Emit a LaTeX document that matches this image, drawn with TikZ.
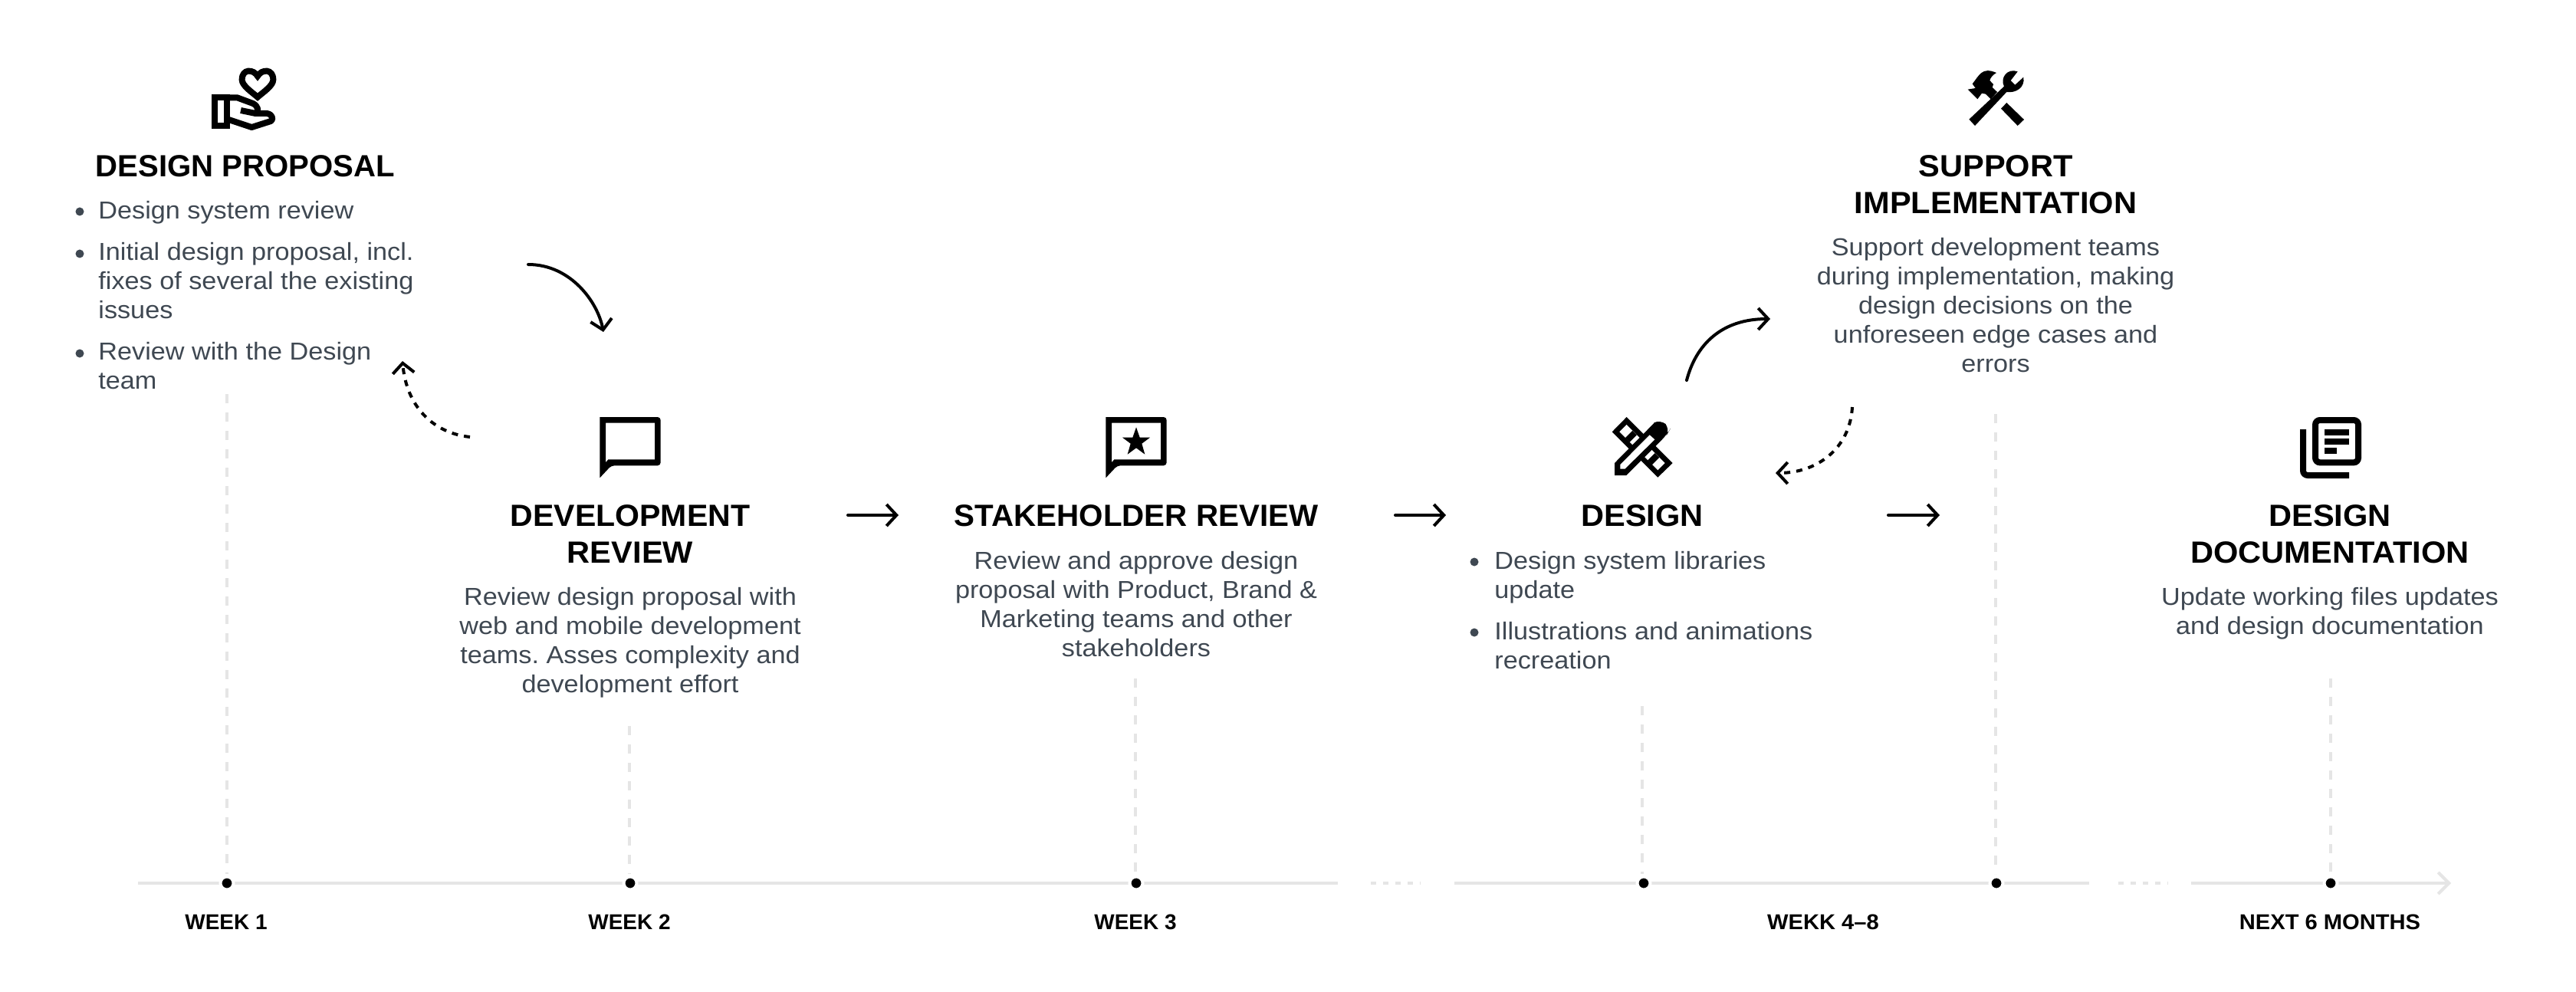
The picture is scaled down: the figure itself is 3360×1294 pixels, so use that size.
\documentclass[tikz,border=0pt]{standalone}
\usepackage{fontspec}
\setmainfont[FakeStretch=1.04]{Liberation Sans}
\newfontfamily\bodyfont[FakeStretch=1.07]{Liberation Sans}
\usetikzlibrary{arrows.meta}
\definecolor{ink}{HTML}{000000}
\definecolor{body}{HTML}{3F4852}
\definecolor{rulegray}{HTML}{E5E5E5}
\newcommand\fh{\rule{0pt}{15pt}}
\newcommand\fb{\rule{0pt}{12pt}}
\newcommand\narrow[2]{\scalebox{#1}[1]{#2}}
\tikzset{
  x=0.5pt,y=-0.5pt,
  title/.style={anchor=north,inner sep=0pt,align=center,text=ink,font=\fontsize{20}{24}\selectfont\bfseries},
  bodyc/.style={anchor=north,inner sep=0pt,align=center,text=body,font=\fontsize{16}{19}\selectfont\bodyfont\frenchspacing},
  bodyl/.style={anchor=north west,inner sep=0pt,align=left,text=body,font=\fontsize{16}{19}\selectfont\bodyfont\frenchspacing},
  week/.style={anchor=base,inner sep=0pt,text=ink,font=\fontsize{14}{17}\selectfont\bfseries},
  bull/.style={circle,fill=body,inner sep=0pt,minimum size=5.5pt},
  tick/.style={circle,fill=ink,draw=white,line width=2pt,inner sep=0pt,minimum size=8.5pt},
  icon/.style={x=0.16667pt,y=-0.16667pt},
  axis/.style={draw=rulegray,line width=2pt},
  stem/.style={draw=rulegray,line width=2pt,dash pattern=on 6pt off 6pt},
  gapdots/.style={draw=rulegray,line width=2pt,dash pattern=on 3.5pt off 4.5pt},
  arr/.style={draw=ink,line width=2pt,line cap=round,-{Straight Barb[length=6.5pt,width=14pt,line width=2pt]}},
  arrd/.style={arr,dash pattern=on 4pt off 4pt,line cap=butt},
}
\begin{document}
\begin{tikzpicture}
\useasboundingbox[fill=white] (0,0) rectangle (3360,1294);

% timeline
\coordinate (a0) at (180,1152); \coordinate (a1) at (1745,1152);
\coordinate (d0) at (1788,1152); \coordinate (d1) at (1853,1152);
\coordinate (b0) at (1897,1152); \coordinate (b1) at (2725,1152);
\coordinate (e0) at (2763,1152); \coordinate (e1) at (2828,1152);
\coordinate (c0) at (2858,1152); \coordinate (c1) at (3197,1152);
\draw[axis] (a0) -- (a1);
\draw[gapdots] (d0) -- (d1);
\draw[axis] (b0) -- (b1);
\draw[gapdots] (e0) -- (e1);
\draw[axis,-{Straight Barb[length=7pt,width=14pt,line width=2pt]}] (c0) -- (c1);

% stems and ticks
\foreach \n/\x/\tx/\y in {w1/296/296/514,w2/821/822/947,w3/1481/1482/885,w4/2142/2144/921,w5/2603/2604/540,w6/3040/3040/885}{
  \coordinate (\n top) at (\x,\y);
  \node[tick] (\n) at (\tx,1152) {};
  \draw[stem] (\n top) -- (\x,1140);
}

% week labels
\node[week] (l1) at (295,1212) {\narrow{.96}{WEEK 1}};
\node[week] (l2) at (821,1212) {\narrow{.96}{WEEK 2}};
\node[week] (l3) at (1481,1212) {\narrow{.96}{WEEK 3}};
\node[week] (l4) at (2378,1212) {WEKK 4–8};
\node[week] (l5) at (3039,1212) {NEXT 6 MONTHS};

% Design proposal
\node[title] (t1) at (320,200) {\fh\narrow{.965}{DESIGN PROPOSAL}};
\node[bull] (p1) at (104,276) {};
\node[bodyl] (p1t) at (128,261) {\fb Design system review};
\node[bull] (p2) at (104,331) {};
\node[bodyl] (p2t) at (128,315) {\fb Initial design proposal, incl.\\fixes of several the existing\\issues};
\node[bull] (p3) at (104,461) {};
\node[bodyl] (p3t) at (128,445) {\fb Review with the Design\\team};

% Development review
\node[title] (t2) at (822,656) {\fh\narrow{.986}{DEVELOPMENT}\\REVIEW};
\node[bodyc] (b2) at (822,765) {\fb Review design proposal with\\web and mobile development\\teams. Asses complexity and\\development effort};

% Stakeholder review
\node[title] (t3) at (1482,656) {\fh\narrow{.97}{STAKEHOLDER REVIEW}};
\node[bodyc] (b3) at (1482,718) {\fb Review and approve design\\proposal with Product, Brand \&\\Marketing teams and other\\stakeholders};

% Design
\node[title] (t4) at (2142,656) {\fh DESIGN};
\node[bull] (q1) at (1923,733) {};
\node[bodyl] (q1t) at (1949,718) {\fb Design system libraries\\update};
\node[bull] (q2) at (1923,825) {};
\node[bodyl] (q2t) at (1949,810) {\fb Illustrations and animations\\recreation};

% Support implementation
\node[title] (t5) at (2603,200) {\fh SUPPORT\\IMPLEMENTATION};
\node[bodyc] (b5) at (2603,309) {\fb Support development teams\\during implementation, making\\design decisions on the\\unforeseen edge cases and\\errors};

% Design documentation
\node[title] (t6) at (3039,656) {\fh DESIGN\\DOCUMENTATION};
\node[bodyc] (b6) at (3039,765) {\fb Update working files updates\\and design documentation};

% connectors
\coordinate (s1) at (689,345); \coordinate (e1a) at (787,433);
\draw[arr] (s1) .. controls (745,345) and (780,395) .. (e1a);
\coordinate (s2) at (613,570); \coordinate (e2a) at (525,471);
\draw[arrd] (s2) .. controls (565,565) and (530,530) .. (e2a);
\coordinate (s3) at (2200,496); \coordinate (e3a) at (2309,416);
\draw[arr] (s3) .. controls (2212,450) and (2245,416) .. (e3a);
\coordinate (s4) at (2416,531); \coordinate (e4a) at (2316,617);
\draw[arrd] (s4) .. controls (2413,585) and (2370,617) .. (e4a);
\foreach \n/\xa/\xb in {f1/1106/1172,f2/1820/1886,f3/2463/2530}{
  \coordinate (\n a) at (\xa,672); \coordinate (\n b) at (\xb,672);
  \draw[arr] (\n a) -- (\n b);
}

% icon: hand with heart
\begin{scope}[shift={(240,70)},icon]
  \draw[ink,line width=4pt,miter limit=10] (288,88) .. controls (272,60) and (227,58) .. (227,102) .. controls (227,125) and (265,150) .. (288,170) .. controls (311,150) and (349,125) .. (349,102) .. controls (349,58) and (304,60) .. (288,88) -- cycle;
  \draw[ink,line width=4pt] (120,172) rectangle (168,283);
  \draw[ink,line width=4pt,line join=round] (175,172) -- (208,172) -- (270,195) .. controls (290,205) and (295,225) .. (280,234) -- (222,222);
  \draw[ink,line width=4pt,line join=round] (280,234) -- (325,234) .. controls (348,238) and (350,258) .. (340,264) -- (265,288) -- (175,258);
\end{scope}

% icon: hammer and wrench
\begin{scope}[shift={(2540,70)},icon]
  \fill[ink] (210,215) -- (232,192) -- (300,258) -- (275,282) -- cycle;
  \fill[ink] (85,257) -- (108,282) -- (232,150) .. controls (265,155) and (305,135) .. (298,92) -- (265,122) -- (248,105) -- (275,70) .. controls (235,55) and (205,95) .. (222,128) -- cycle;
  \fill[ink] (98,118) .. controls (125,85) and (135,50) .. (192,75) .. controls (178,82) and (168,95) .. (166,105) -- (180,120) -- (176,132) -- (195,150) -- (170,178) -- (150,158) -- (135,155) -- (118,178) -- (80,140) -- (110,135) -- cycle;
\end{scope}

% icon: speech bubble
\begin{scope}[shift={(760,530)},icon]
  \fill[ink,even odd rule,rounded corners=2pt] (67,42) -- (305,42) -- (305,232) -- (112,232) [sharp corners] -- (67,280) -- cycle
    (90,65) -- (282,65) -- (282,208) -- (100,208) -- (90,220) -- cycle;
\end{scope}

% icon: speech bubble with star
\begin{scope}[shift={(1400,530)},icon]
  \fill[ink,even odd rule,rounded corners=2pt] (127,42) -- (365,42) -- (365,232) -- (172,232) [sharp corners] -- (127,280) -- cycle
    (150,65) -- (342,65) -- (342,208) -- (160,208) -- (150,220) -- cycle;
  \fill[ink] (246,82) -- (260,122) -- (300,122) -- (268,146) -- (280,188) -- (246,163) -- (212,188) -- (224,146) -- (192,122) -- (232,122) -- cycle;
\end{scope}

% icon: pencil and ruler
\begin{scope}[shift={(2060,530)},icon]
  \fill[ink] (185,42) -- (365,222) -- (307,278) -- (128,100) -- cycle;
  \fill[white] (185,72) -- (335,222) -- (307,250) -- (157,100) -- cycle;
  \draw[ink,line width=4pt] (216,104) -- (188,132);
  \draw[ink,line width=4pt] (304,192) -- (276,220);
  \fill[ink,rounded corners=3pt] (138,270) [sharp corners] -- (138,222) -- (296,62) [rounded corners=5pt] -- (318,50) -- (356,88) -- (342,112) [sharp corners] -- (184,270) -- cycle;
  \fill[white] (160,245) -- (160,228) -- (275,112) -- (295,130) -- (178,245) -- cycle;
\end{scope}

% icon: documents
\begin{scope}[shift={(2960,530)},icon]
  \draw[ink,line width=4pt,rounded corners=3pt] (180,54) rectangle (348,220);
  \fill[ink] (216,90) rectangle (312,114);
  \fill[ink] (216,126) rectangle (312,150);
  \fill[ink] (216,162) rectangle (264,186);
  \draw[ink,line width=4pt,rounded corners=3pt] (132,90) -- (132,270) -- (312,270);
\end{scope}
\end{tikzpicture}
\end{document}
